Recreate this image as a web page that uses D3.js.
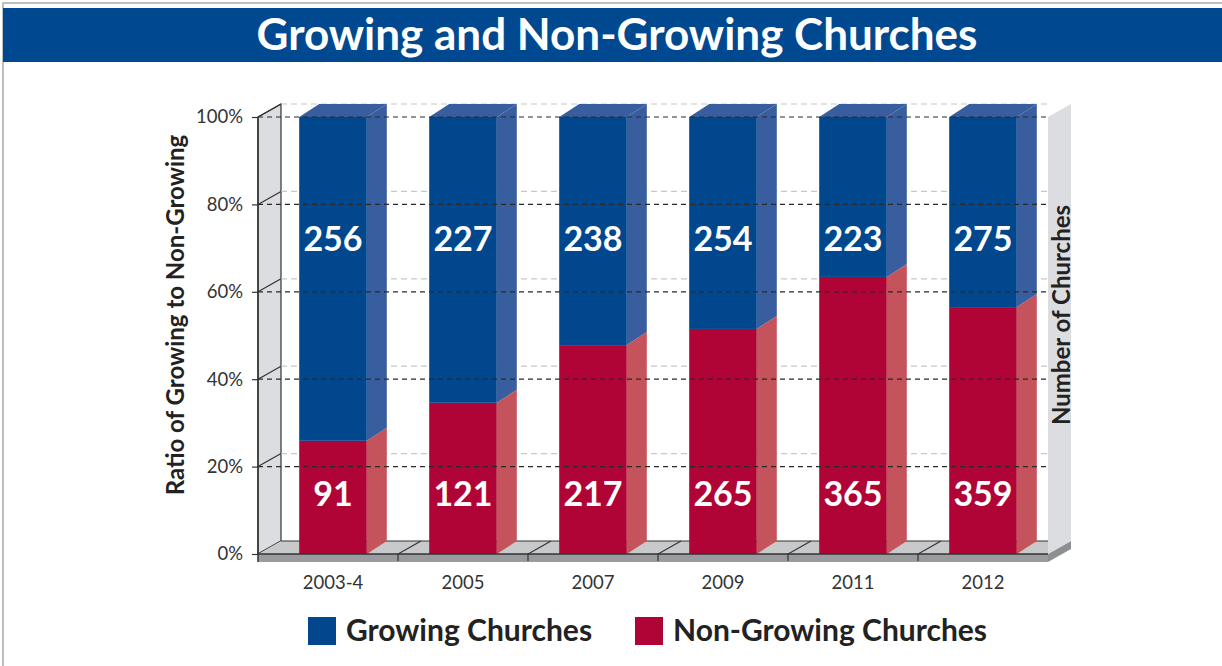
<!DOCTYPE html>
<html lang="en">
<head>
<meta charset="UTF-8" />
<title>Growing and Non-Growing Churches</title>
<script src="https://d3js.org/d3.v7.min.js"></script>
<style>
  body { margin: 0; background: #fff; }
  svg { display: block; }
</style>
</head>
<body>
<div id="chart"></div>
<script>
// data
var years = ["2003-4", "2005", "2007", "2009", "2011", "2012"];
var growing = [256, 227, 238, 254, 223, 275];
var nonGrowing = [91, 121, 217, 265, 365, 359];
// share of non-growing as drawn (height of red part)
var nonGrowingShare = [0.259, 0.346, 0.478, 0.515, 0.634, 0.565];
var tickValues = [0, 0.2, 0.4, 0.6, 0.8, 1];

var W = 1222, H = 666;
var font = "Lato, 'DejaVu Sans', sans-serif";

var svg = d3.select("#chart").append("svg")
  .attr("width", W).attr("height", H);

// page frame + title bar
svg.append("rect").attr("x", 3).attr("y", 3).attr("width", W + 10).attr("height", H + 10)
  .attr("fill", "#fff").attr("stroke", "#a9a9a9").attr("stroke-width", 1.5);
svg.append("rect").attr("x", 3).attr("y", 8).attr("width", W).attr("height", 54)
  .attr("fill", "#004990");
svg.append("text").attr("x", 617).attr("y", 50).attr("text-anchor", "middle")
  .attr("font-family", font).attr("font-weight", "bold").attr("font-size", 44)
  .attr("fill", "#fff").text("Growing and Non-Growing Churches");

// scales
var x0 = 258, x1 = 1048;
var y = d3.scaleLinear().domain([0, 1]).range([554, 117]);
var x = d3.scaleBand().domain(years).range([268, 1048]);
var wallDx = 23, wallDy = -13; // depth of walls
var barDx = 20, barDy = -13;   // depth of bars
var barW = x.bandwidth() * 0.52;

function poly(pts) { return "M" + pts.map(function(p) { return p.join(","); }).join("L") + "Z"; }

// left wall
svg.append("path")
  .attr("d", poly([[x0, y(0)], [x0, y(1)], [x0 + wallDx, y(1) + wallDy], [x0 + wallDx, y(0) + wallDy]]))
  .attr("fill", "#dcdde0").attr("stroke", "#333").attr("stroke-width", 1.2);

// back grid dashes
svg.selectAll("line.back").data(tickValues.filter(function(d) { return d > 0; })).enter()
  .append("line").attr("class", "back")
  .attr("x1", x0 + wallDx).attr("x2", x1)
  .attr("y1", function(d) { return y(d) + wallDy; }).attr("y2", function(d) { return y(d) + wallDy; })
  .attr("stroke", "#c8c8c8").attr("stroke-width", 1.2).attr("stroke-dasharray", "6 4");

// diagonal tick lines on left wall
svg.selectAll("line.wall").data(tickValues).enter()
  .append("line").attr("class", "wall")
  .attr("x1", x0).attr("x2", x0 + wallDx)
  .attr("y1", function(d) { return y(d); }).attr("y2", function(d) { return y(d) + wallDy; })
  .attr("stroke", "#333").attr("stroke-width", 1.2);

// floor top and front slab
svg.append("path")
  .attr("d", poly([[x0, y(0)], [x0 + wallDx, y(0) + wallDy], [x1 + wallDx, y(0) + wallDy], [x1, y(0)]]))
  .attr("fill", "#c8c9cb");
svg.append("line").attr("x1", x0 + wallDx).attr("x2", x1).attr("y1", y(0) + wallDy).attr("y2", y(0) + wallDy)
  .attr("stroke", "#333").attr("stroke-width", 1.2);
svg.append("rect").attr("x", x0).attr("y", y(0)).attr("width", x1 - x0).attr("height", 8)
  .attr("fill", "#9a9b9e");
svg.append("path")
  .attr("d", poly([[x1, y(0)], [x1 + wallDx, y(0) + wallDy], [x1 + wallDx, y(0) + wallDy + 8], [x1, y(0) + 8]]))
  .attr("fill", "#8e8f92");

// floor dividers between categories
var dividers = years.slice(1).map(function(d) { return x(d); });
svg.selectAll("path.div").data(dividers).enter().append("path").attr("class", "div")
  .attr("d", function(d) { return "M" + d + "," + (y(0) + 7) + "L" + d + "," + y(0) + "L" + (d + wallDx) + "," + (y(0) + wallDy); })
  .attr("fill", "none").attr("stroke", "#333").attr("stroke-width", 1.2);

// bars
var rows = years.map(function(d, i) {
  return { year: d, g: growing[i], n: nonGrowing[i], split: nonGrowingShare[i] };
});
var bars = svg.selectAll("g.bar").data(rows).enter().append("g").attr("class", "bar")
  .attr("transform", function(d) { return "translate(" + (x(d.year) + (x.bandwidth() - barW) / 2) + ",0)"; });

function face(bx, yb, yt) {
  return poly([[bx, yb], [bx + barDx, yb + barDy], [bx + barDx, yt + barDy], [bx, yt]]);
}
// red part
bars.append("rect").attr("x", 0).attr("width", barW)
  .attr("y", function(d) { return y(d.split); }).attr("height", function(d) { return y(0) - y(d.split); })
  .attr("fill", "#b10436");
bars.append("path").attr("d", function(d) { return face(barW, y(0), y(d.split)); })
  .attr("fill", "#c5535b");
// blue part
bars.append("rect").attr("x", 0).attr("width", barW)
  .attr("y", y(1)).attr("height", function(d) { return y(d.split) - y(1); })
  .attr("fill", "#00478e");
bars.append("path").attr("d", function(d) { return face(barW, y(d.split), y(1)); })
  .attr("fill", "#395e9f");
bars.append("path")
  .attr("d", poly([[0, y(1)], [barDx, y(1) + barDy], [barW + barDx, y(1) + barDy], [barW, y(1)]]))
  .attr("fill", "#395e9f");

// value labels
bars.append("text").attr("x", barW / 2).attr("y", y(0.72) + 12).attr("text-anchor", "middle")
  .attr("font-family", font).attr("font-weight", "bold").attr("font-size", 34).attr("fill", "#fff")
  .text(function(d) { return d.g; });
bars.append("text").attr("x", barW / 2).attr("y", y(0.137) + 12).attr("text-anchor", "middle")
  .attr("font-family", font).attr("font-weight", "bold").attr("font-size", 34).attr("fill", "#fff")
  .text(function(d) { return d.n; });

// front dashed grid (over bars)
svg.selectAll("line.front").data(tickValues.filter(function(d) { return d > 0; })).enter()
  .append("line").attr("class", "front")
  .attr("x1", x0).attr("x2", x1 - 1)
  .attr("y1", function(d) { return y(d); }).attr("y2", function(d) { return y(d); })
  .attr("stroke", "#2a2a2a").attr("stroke-width", 1.2).attr("stroke-dasharray", "5 4");
svg.append("line").attr("x1", x0).attr("x2", x1).attr("y1", y(0)).attr("y2", y(0))
  .attr("stroke", "#333").attr("stroke-width", 1.5);
svg.append("line").attr("x1", x0).attr("x2", x0).attr("y1", y(1)).attr("y2", y(0) + 8)
  .attr("stroke", "#333").attr("stroke-width", 1.5);

// y axis
var yAxis = svg.append("g").attr("transform", "translate(" + x0 + ",0)")
  .call(d3.axisLeft(y).tickValues(tickValues).tickSize(6).tickPadding(9)
    .tickFormat(function(d) { return Math.round(d * 100) + "%"; }));
yAxis.select(".domain").remove();
yAxis.selectAll("line").attr("stroke", "#333").attr("stroke-width", 1.2);
yAxis.selectAll("text").attr("font-family", font).attr("font-size", 18.5).attr("fill", "#333");

// x axis labels
var xAxis = svg.append("g").attr("transform", "translate(0," + (y(0) + 18) + ")")
  .call(d3.axisBottom(x).tickSize(0).tickPadding(4));
xAxis.select(".domain").remove();
xAxis.selectAll("text").attr("font-family", font).attr("font-size", 18.5).attr("fill", "#333");

// right wall
svg.append("path")
  .attr("d", poly([[x1, y(1)], [x1 + wallDx, y(1) + wallDy], [x1 + wallDx, y(0) + wallDy], [x1, y(0)]]))
  .attr("fill", "#dcdde0");
svg.append("text").attr("transform", "translate(1070,315) rotate(-90)").attr("text-anchor", "middle")
  .attr("font-family", font).attr("font-weight", "bold").attr("font-size", 24).attr("fill", "#222")
  .text("Number of Churches");

// left axis title
svg.append("text").attr("transform", "translate(184,315) rotate(-90)").attr("text-anchor", "middle")
  .attr("font-family", font).attr("font-weight", "bold").attr("font-size", 24).attr("fill", "#222")
  .text("Ratio of Growing to Non-Growing");

// legend
var legend = [{ name: "Growing Churches", color: "#00478e", x: 308 },
              { name: "Non-Growing Churches", color: "#b10436", x: 635 }];
var lg = svg.selectAll("g.leg").data(legend).enter().append("g").attr("class", "leg")
  .attr("transform", function(d) { return "translate(" + d.x + ",617)"; });
lg.append("rect").attr("width", 28).attr("height", 28).attr("fill", function(d) { return d.color; });
lg.append("text").attr("x", 38).attr("y", 24).attr("font-family", font).attr("font-weight", "bold")
  .attr("font-size", 30).attr("fill", "#222").text(function(d) { return d.name; });
</script>
</body>
</html>
